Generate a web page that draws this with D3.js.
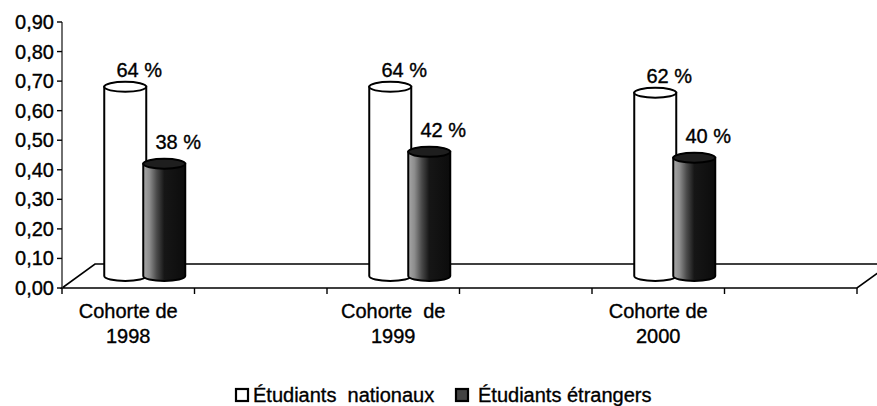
<!DOCTYPE html>
<html>
<head>
<meta charset="utf-8">
<script src="https://cdn.jsdelivr.net/npm/d3@7"></script>
<style>
  html, body { margin: 0; padding: 0; background: #fff; }
  svg { display: block; }
  text { font-family: "Liberation Sans", Arial, sans-serif; fill: #000; stroke: #000; stroke-width: 0.35px; }
</style>
</head>
<body>
<div id="chart"></div>
<script>
// six category slots, only every other one holds data
const slots = [0, 1, 2, 3, 4, 5]
const cohortLabels = [["Cohorte de", "1998"], null, ["Cohorte  de", "1999"], null, ["Cohorte de", "2000"], null]
const seriesNames = ["Étudiants  nationaux", "Étudiants étrangers"]
const nationaux = [0.64, null, 0.64, null, 0.62, null]
const etrangers = [0.38, null, 0.42, null, 0.40, null]
const yTicks = [0, 0.1, 0.2, 0.3, 0.4, 0.5, 0.6, 0.7, 0.8, 0.9]

const width = 877
const height = 406
const depth = { dx: 33, dy: -24 }
const rx = 21, ry = 5

const svg = d3.select("#chart").append("svg")
    .attr("width", width)
    .attr("height", height)

const defs = svg.append("defs")
const grad = defs.append("linearGradient").attr("id", "darkGrad")
    .attr("x1", "0%").attr("x2", "100%").attr("y1", "0%").attr("y2", "0%")
grad.selectAll("stop")
    .data([[0, "#a8a8a8"], [0.15, "#8c8c8c"], [0.32, "#4a4a4a"], [0.5, "#161616"], [1, "#0c0c0c"]])
    .join("stop")
    .attr("offset", d => d[0])
    .attr("stop-color", d => d[1])

const y = d3.scaleLinear().domain([0, 0.9]).range([288, 22])
const x = d3.scaleBand().domain(slots).range([62, 857]).padding(0)
const inner = d3.scaleBand().domain(seriesNames).range([-39, 39]).padding(0)

// floor
const x0 = x.range()[0], x1 = x.range()[1], y0 = y(0)
svg.append("path")
    .attr("d", `M${x0},${y0}L${x1},${y0}L${x1 + depth.dx},${y0 + depth.dy}L${x0 + depth.dx},${y0 + depth.dy}Z`)
    .attr("fill", "#fff")
    .attr("stroke", "#000")
    .attr("stroke-width", 1.6)

// y axis
svg.append("line")
    .attr("x1", x0).attr("x2", x0)
    .attr("y1", y(0.9)).attr("y2", y0)
    .attr("stroke", "#333").attr("stroke-width", 1.4)

const yt = svg.append("g").selectAll("g").data(yTicks).join("g")
    .attr("transform", d => `translate(0,${y(d)})`)
yt.append("line").attr("x1", x0 - 5).attr("x2", x0).attr("stroke", "#000").attr("stroke-width", 1.4)
yt.append("text")
    .attr("x", x0 - 8)
    .attr("dy", "0.35em")
    .attr("text-anchor", "end")
    .style("font-size", "20px")
    .text(d => d3.format(".2f")(d).replace(".", ","))

// category ticks
svg.append("g").selectAll("line")
    .data(slots.concat([slots.length]))
    .join("line")
    .attr("x1", d => x0 + d * x.bandwidth())
    .attr("x2", d => x0 + d * x.bandwidth())
    .attr("y1", y0).attr("y2", y0 + 6)
    .attr("stroke", "#000").attr("stroke-width", 1.4)

// category labels
const cl = svg.append("g").selectAll("text")
    .data(slots.filter(i => cohortLabels[i]))
    .join("text")
    .attr("text-anchor", "middle")
    .style("font-size", "20px")
    .style("white-space", "pre")
cl.selectAll("tspan")
    .data(i => cohortLabels[i].map(t => ({ i, t })))
    .join("tspan")
    .attr("x", d => x(d.i) + x.bandwidth() / 2)
    .attr("y", (d, k) => 318 + k * 25)
    .text(d => d.t)

// cylinders
const bars = []
slots.forEach(i => {
    if (nationaux[i] != null) bars.push({ i, s: seriesNames[0], v: nationaux[i] })
    if (etrangers[i] != null) bars.push({ i, s: seriesNames[1], v: etrangers[i] })
})

const cx = d => x(d.i) + x.bandwidth() / 2 + depth.dx / 2 + inner(d.s) + inner.bandwidth() / 2
const topY = d => y(d.v) + depth.dy / 2
const botY = () => y(0) + depth.dy / 2
const isDark = d => d.s === seriesNames[1]

const cyl = svg.append("g").selectAll("g").data(bars).join("g")
cyl.append("path")
    .attr("d", d => `M${cx(d) - rx},${topY(d)}L${cx(d) - rx},${botY()}A${rx},${ry} 0 0 0 ${cx(d) + rx},${botY()}L${cx(d) + rx},${topY(d)}Z`)
    .attr("fill", d => isDark(d) ? "url(#darkGrad)" : "#fff")
    .attr("stroke", "#000")
    .attr("stroke-width", 2)
cyl.append("ellipse")
    .attr("cx", cx).attr("cy", topY)
    .attr("rx", rx).attr("ry", ry)
    .attr("fill", d => isDark(d) ? "#1e1e1e" : "#fff")
    .attr("stroke", "#000")
    .attr("stroke-width", 2)

// value labels
svg.append("g").selectAll("text").data(bars).join("text")
    .attr("x", d => cx(d) + 14)
    .attr("y", d => topY(d) - (isDark(d) ? 15 : 10))
    .attr("text-anchor", "middle")
    .style("font-size", "20px")
    .text(d => Math.round(d.v * 100) + " %")

// legend
const legend = svg.append("g").attr("transform", "translate(235,388)")
legend.append("rect").attr("x", 1).attr("y", 1).attr("width", 12).attr("height", 12)
    .attr("fill", "#fff").attr("stroke", "#000").attr("stroke-width", 2.2)
legend.append("text").attr("x", 18).attr("y", 14).style("font-size", "20px").style("white-space", "pre")
    .text(seriesNames[0])
legend.append("rect").attr("x", 221).attr("y", 1).attr("width", 12).attr("height", 12)
    .attr("fill", "#444").attr("stroke", "#000").attr("stroke-width", 2.2)
legend.append("text").attr("x", 243).attr("y", 14).style("font-size", "20px")
    .text(seriesNames[1])
</script>
</body>
</html>
